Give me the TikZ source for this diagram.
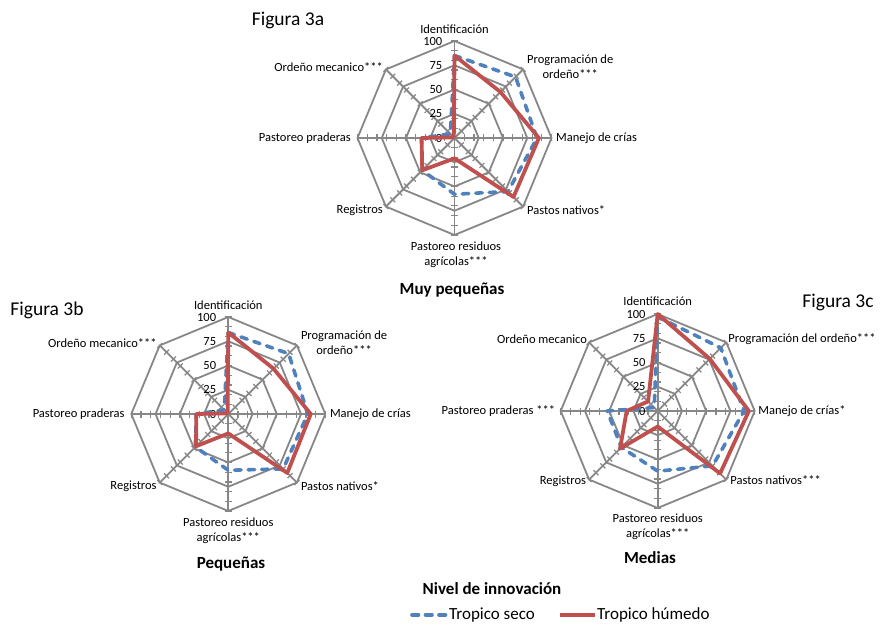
\documentclass[tikz,border=0pt]{standalone}
\usepackage{fontspec}
\setmainfont{Carlito}
\usepackage{tikz}
\usetikzlibrary{positioning}

\definecolor{gris}{HTML}{878787}
\definecolor{azulseco}{HTML}{4F81BD}
\definecolor{rojohumedo}{HTML}{C0504D}

\newcommand{\ru}{0.97}

\tikzset{
  rejilla/.style={draw=gris, line width=1.8pt},
  muesca/.style={draw=gris, line width=1.2pt},
  escala/.style={anchor=east, inner sep=0pt},
  etiqueta/.style={inner sep=0pt, align=center},
  titulo/.style={inner sep=0pt, font=\fontsize{19.5}{22}\selectfont},
  subtitulo/.style={inner sep=0pt, font=\bfseries\fontsize{17}{20}\selectfont},
  lineaseco/.style={draw=azulseco, line width=3.6pt, dash pattern=on 6.5pt off 7pt, line cap=round, line join=round},
  lineahumedo/.style={draw=rojohumedo, line width=3.8pt, line join=round},
}

% grid, spokes, ticks and scale of one radar
\newcommand{\telarana}[1]{%
  \foreach \r in {25,50,75,100}
    \draw[rejilla] (-90:\r*\ru) -- (-45:\r*\ru) -- (0:\r*\ru) -- (45:\r*\ru) -- (90:\r*\ru) -- (135:\r*\ru) -- (180:\r*\ru) -- (225:\r*\ru) -- cycle;
  \foreach \a in {-90,-45,...,225} {
    \begin{scope}[rotate=-\a]
      \draw[rejilla] (0,0) -- (100*\ru,0);
      \foreach \t in {10,20,...,100}
        \draw[muesca] (\t*\ru,-3.5) -- (\t*\ru,3.5);
    \end{scope}
  }
  \foreach \v in {0,25,50,75,100}
    \node[escala] (#1-\v) at (-12,-\v*\ru) {\v};
}

% one data series, clockwise from the top
\newcommand{\serie}[9]{%
  \draw[#1] (-90:#2*\ru) -- (-45:#3*\ru) -- (0:#4*\ru) -- (45:#5*\ru) -- (90:#6*\ru) -- (135:#7*\ru) -- (180:#8*\ru) -- (225:#9*\ru) -- cycle;
}

\begin{document}
\begin{tikzpicture}[x=1pt, y=-1pt, font=\fontsize{12.5}{15}\selectfont]
    \useasboundingbox (0,0) rectangle (881,636);

    % Figura 3a
    \begin{scope}[shift={(454.5,138)}]
      \telarana{a}
      \serie{lineaseco}{85}{89}{85}{78}{58}{47}{34}{6}
      \serie{lineahumedo}{85}{67}{87}{86}{21}{47}{34}{1}
      \node[etiqueta] (a-ident) at (0,-109) {Identificación};
      \node[etiqueta, anchor=west] (a-prog) at (72.5,-71) {Programación de\\ordeño***};
      \node[etiqueta, anchor=west] (a-crias) at (101.5,0) {Manejo de crías};
      \node[etiqueta, anchor=west] (a-pastos) at (72.5,72) {Pastos nativos*};
      \node[etiqueta] (a-residuos) at (1.5,117) {Pastoreo residuos\\agrícolas***};
      \node[etiqueta, anchor=east] (a-registros) at (-71.5,72) {Registros};
      \node[etiqueta, anchor=east] (a-praderas) at (-103.5,0) {Pastoreo praderas};
      \node[etiqueta, anchor=east] (a-ordeno) at (-71.5,-71) {Ordeño mecanico***};
    \end{scope}
    \node[titulo] (fig-a) at (288,20) {Figura 3a};
    \node[subtitulo] (tam-a) at (452,290) {Muy pequeñas};

    % Figura 3b
    \begin{scope}[shift={(228.3,414)}]
      \telarana{b}
      \serie{lineaseco}{84}{88}{82}{80}{58}{48}{33}{6}
      \serie{lineahumedo}{84}{66}{85}{86}{20}{47}{33}{1}
      \node[etiqueta] (b-ident) at (0,-109) {Identificación};
      \node[etiqueta, anchor=west] (b-prog) at (72.5,-71) {Programación de\\ordeño***};
      \node[etiqueta, anchor=west] (b-crias) at (101.5,0) {Manejo de crías};
      \node[etiqueta, anchor=west] (b-pastos) at (72.5,72) {Pastos nativos*};
      \node[etiqueta] (b-residuos) at (0,117) {Pastoreo residuos\\agrícolas***};
      \node[etiqueta, anchor=east] (b-registros) at (-71.5,72) {Registros};
      \node[etiqueta, anchor=east] (b-praderas) at (-103.5,0) {Pastoreo praderas};
      \node[etiqueta, anchor=east] (b-ordeno) at (-71.5,-71) {Ordeño mecanico***};
    \end{scope}
    \node[titulo] (fig-b) at (47,310) {Figura 3b};
    \node[subtitulo] (tam-b) at (231,564) {Pequeñas};

    % Figura 3c
    \begin{scope}[shift={(657.7,411)}]
      \telarana{c}
      \serie{lineaseco}{97}{92}{89}{80}{62}{53}{52}{5}
      \serie{lineahumedo}{100}{76}{94}{91}{16}{55}{32}{14}
      \node[etiqueta] (c-ident) at (0,-110) {Identificación};
      \node[etiqueta, anchor=west] (c-prog) at (70.5,-72) {Programación del ordeño***};
      \node[etiqueta, anchor=west] (c-crias) at (100.5,0) {Manejo de crías*};
      \node[etiqueta, anchor=west] (c-pastos) at (72.5,69) {Pastos nativos***};
      \node[etiqueta] (c-residuos) at (0,116) {Pastoreo residuos\\agrícolas***};
      \node[etiqueta, anchor=east] (c-registros) at (-71.5,70) {Registros};
      \node[etiqueta, anchor=east] (c-praderas) at (-102.5,0) {Pastoreo praderas ***};
      \node[etiqueta, anchor=east] (c-ordeno) at (-70.5,-72) {Ordeño mecanico};
    \end{scope}
    \node[titulo] (fig-c) at (838,302) {Figura 3c};
    \node[subtitulo] (tam-c) at (650,558) {Medias};

    % Legend
    \node[subtitulo] (nivel) at (492,589) {Nivel de innovación};
    \node[inner sep=0pt, anchor=west, font=\fontsize{17}{20}\selectfont] (seco-texto) at (449,615) {Tropico seco};
    \node[inner sep=0pt, anchor=west, font=\fontsize{17}{20}\selectfont] (humedo-texto) at (597,615) {Tropico húmedo};
    \coordinate (seco-ini) at (412,615);
    \coordinate (humedo-ini) at (560,615);
    \draw[lineaseco] (seco-ini) -- ([xshift=-2pt]seco-texto.west);
    \draw[lineahumedo, line width=3.6pt] (humedo-ini) -- ([xshift=-2pt]humedo-texto.west);
\end{tikzpicture}
\end{document}
